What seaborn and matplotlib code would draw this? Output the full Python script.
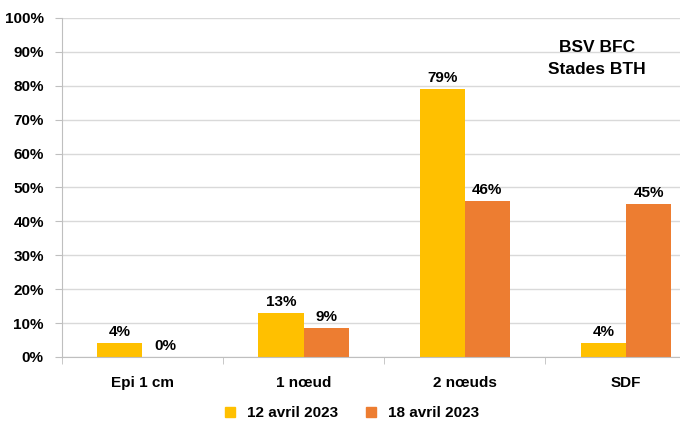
import seaborn as sns
import matplotlib.pyplot as plt
import pandas as pd
from matplotlib.ticker import PercentFormatter, FixedLocator

stades = ['Epi 1 cm', '1 nœud', '2 nœuds', 'SDF']
dates = ['12 avril 2023', '18 avril 2023']
val_12 = [4, 13, 79, 4]
val_18 = [0, 8.5, 46, 45]
lbl_12 = ['4%', '13%', '79%', '4%']
lbl_18 = ['0%', '9%', '46%', '45%']
couleurs = ['#FFC000', '#ED7D31']

df = pd.DataFrame({
    'stade': stades * 2,
    'date': [dates[0]] * 4 + [dates[1]] * 4,
    'pct': val_12 + val_18,
})

sns.set_style('white')
plt.rcParams['font.family'] = ['Liberation Sans Narrow', 'Liberation Sans', 'DejaVu Sans']
plt.rcParams['font.weight'] = 'bold'
plt.rcParams['text.color'] = 'black'

fig = plt.figure(figsize=(6.8, 4.26), dpi=100)
ax = fig.add_axes([0.091, 0.162, 0.948, 0.796])

sns.barplot(data=df, x='stade', y='pct', hue='date', palette=couleurs,
            width=0.56, ax=ax, saturation=1, legend=False,
            linewidth=0, edgecolor='none')

# etiquettes de donnees
for cont, lbls in zip(ax.containers, [lbl_12, lbl_18]):
    ax.bar_label(cont, labels=lbls, padding=3, fontsize=11, fontweight='bold',
                 color='black')

ax.set_ylim(0, 100)
ax.set_xlim(-0.5, 3.5)
ax.yaxis.set_major_locator(FixedLocator(range(0, 101, 10)))
ax.yaxis.set_major_formatter(PercentFormatter(decimals=0))
ax.grid(axis='y', color='#d9d9d9', linewidth=1)
ax.set_axisbelow(True)
ax.set_xlabel('')
ax.set_ylabel('')

for s in ['top', 'right']:
    ax.spines[s].set_visible(False)
for s in ['left', 'bottom']:
    ax.spines[s].set_color('#bfbfbf')

ax.tick_params(axis='y', left=True, length=5, color='#bfbfbf', labelsize=11,
               pad=8, labelcolor='black')
ax.tick_params(axis='x', bottom=False, labelsize=11, pad=10, labelcolor='black')
ax.set_xticks([-0.5, 0.5, 1.5, 2.5, 3.5], minor=True)
ax.tick_params(axis='x', which='minor', bottom=True, length=5, color='#bfbfbf')

ax.text(2.82, 88, 'BSV BFC\nStades BTH', ha='center', va='center',
        fontsize=12.5, fontweight='bold', linespacing=1.55)

handles = [plt.Line2D([], [], marker='s', linestyle='', markersize=7,
                      color=c) for c in couleurs]
fig.legend(handles, dates, loc='center', bbox_to_anchor=(0.51, 0.03), ncol=2,
           frameon=False, fontsize=11, handletextpad=0.1, columnspacing=1.2)

fig.savefig('out.png', dpi=100)
